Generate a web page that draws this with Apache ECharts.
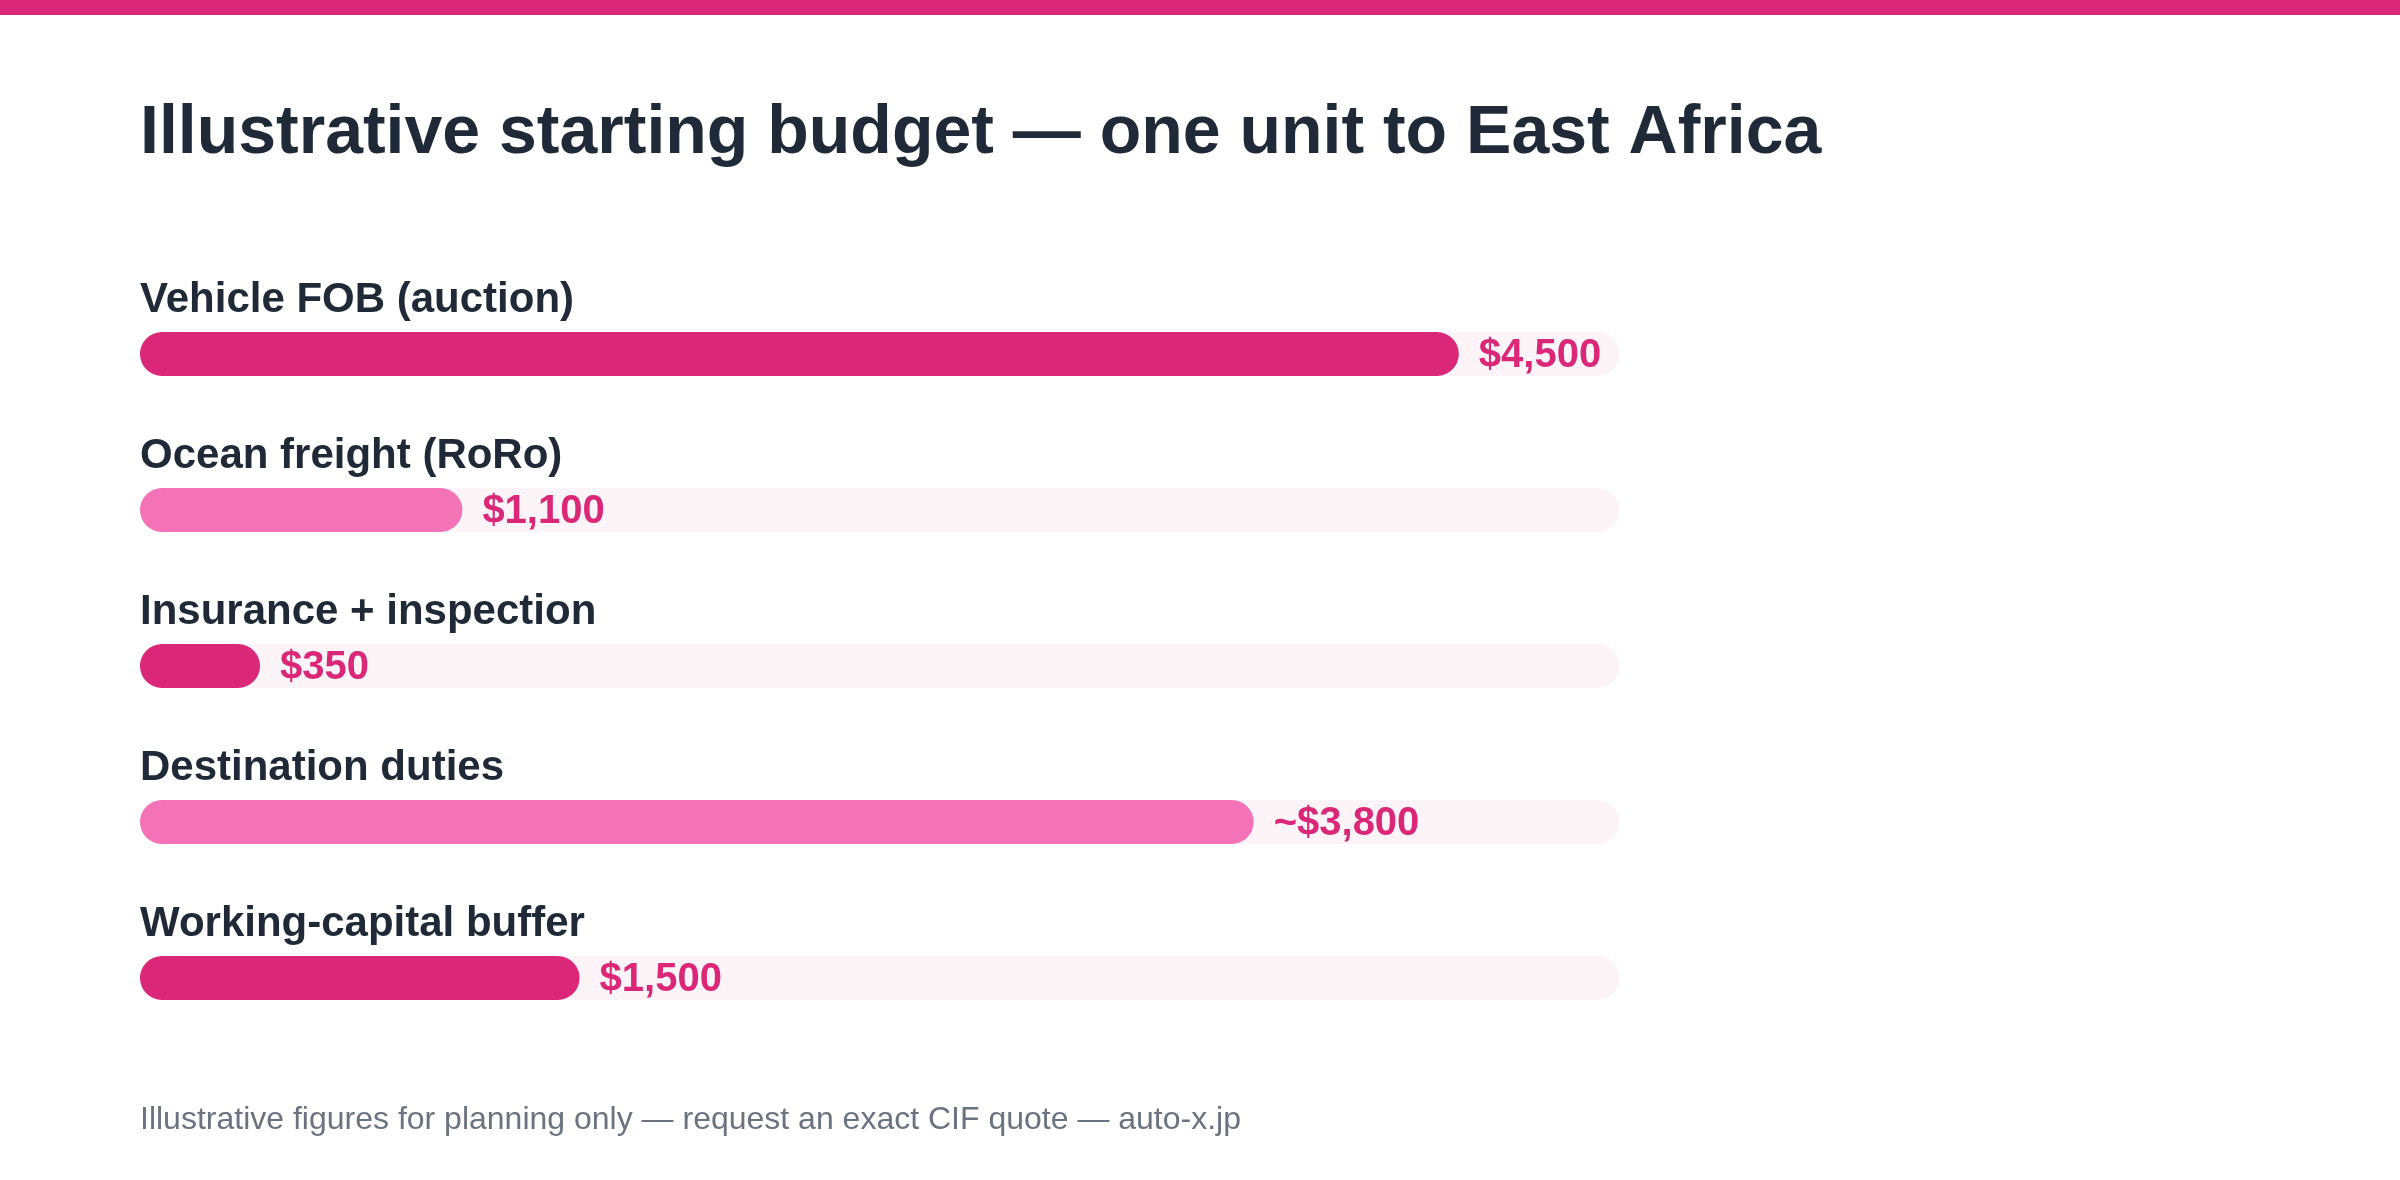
<!DOCTYPE html>
<html>
<head>
<meta charset="utf-8">
<title>Illustrative starting budget</title>
<script src="https://cdn.jsdelivr.net/npm/echarts@6/dist/echarts.min.js"></script>
<style>
  html, body { margin: 0; padding: 0; background: #fff; }
  #chart { width: 2400px; height: 1180px; }
</style>
</head>
<body>
<div id="chart"></div>
<script>
// budget lines, top to bottom
var categories = [
  'Vehicle FOB (auction)',
  'Ocean freight (RoRo)',
  'Insurance + inspection',
  'Destination duties',
  'Working-capital buffer'
];
var costs = [4500, 1100, 350, 3800, 1500];
// duties are only an estimate, shown with a "~"
var approximate = [false, false, false, true, false];
var scaleMax = 5050;

var darkPink = '#db2777';
var lightPink = '#f472b6';

function money(v, idx) {
  var s = '$' + v.toLocaleString('en-US');
  return approximate[idx] ? '~' + s : s;
}

var dom = document.getElementById('chart');
var myChart = echarts.init(dom);

var option = {
  backgroundColor: '#ffffff',
  animation: false,
  textStyle: {
    fontFamily: ['Liberation Sans', 'Arial', 'sans-serif'],
  },
  graphic: [
    {
      type: 'rect',
      left: 0,
      top: 0,
      shape: { width: 2400, height: 15 },
      style: { fill: darkPink },
    },
  ],
  title: [
    {
      text: 'Illustrative starting budget \u2014 one unit to East Africa',
      left: 140,
      top: 100,
      padding: 0,
      textStyle: {
        fontSize: 68,
        fontWeight: 'bold',
        color: '#1f2937',
      },
    },
    {
      text: 'Illustrative figures for planning only \u2014 request an exact CIF quote \u2014 auto-x.jp',
      left: 140,
      top: 1104,
      padding: 0,
      textStyle: {
        fontSize: 32,
        fontWeight: 'normal',
        color: '#6b7280',
      },
    },
  ],
  grid: {
    left: 140,
    right: 780,
    top: 276,
    height: 780,
    containLabel: false,
  },
  xAxis: {
    type: 'value',
    min: 0,
    max: scaleMax,
    show: false,
  },
  yAxis: {
    type: 'category',
    inverse: true,
    data: categories,
    axisLine: { show: false },
    axisTick: { show: false },
    splitLine: { show: false },
    axisLabel: {
      inside: true,
      margin: 0,
      align: 'left',
      verticalAlign: 'bottom',
      padding: [0, 0, 33, 0],
      fontSize: 42,
      lineHeight: 42,
      fontWeight: 'bold',
      color: '#1f2937',
    },
  },
  series: [
    {
      name: 'Cost',
      type: 'bar',
      data: costs,
      barWidth: 44,
      barMinHeight: 120,
      showBackground: true,
      backgroundStyle: {
        color: '#fdf4f8',
        borderRadius: 22,
      },
      itemStyle: {
        borderRadius: 22,
        color: function (p) {
          return p.dataIndex % 2 === 0 ? darkPink : lightPink;
        },
      },
      label: {
        show: true,
        position: 'right',
        distance: 20,
        offset: [0, 2],
        fontSize: 40,
        fontWeight: 'bold',
        color: darkPink,
        formatter: function (p) {
          return money(p.value, p.dataIndex);
        },
      },
    },
  ],
};

if (option && typeof option === "object") {
  myChart.setOption(option, true);
}
</script>
</body>
</html>
